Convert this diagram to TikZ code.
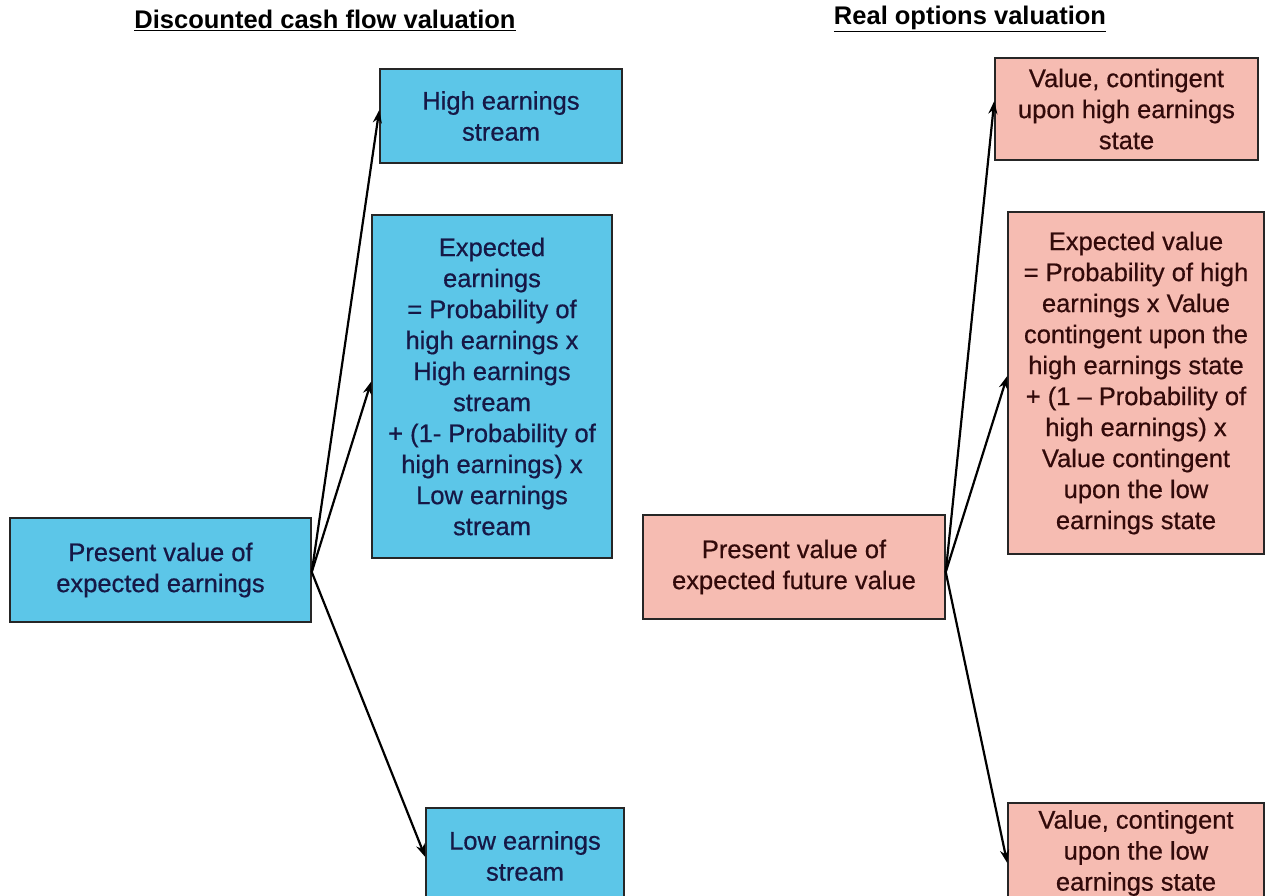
\documentclass[tikz,border=0pt]{standalone}
\usepackage{fontspec}
\setmainfont{Liberation Sans}
\newfontfamily\boxfont[FakeBold=0.6,Ligatures=TeX]{Liberation Sans}
\usetikzlibrary{arrows.meta}
\definecolor{bluefill}{RGB}{92,198,232}
\definecolor{pinkfill}{RGB}{246,188,178}
\definecolor{bluetext}{RGB}{22,24,70}
\definecolor{pinktext}{RGB}{50,10,10}
\begin{document}
\begin{tikzpicture}[x=1pt,y=-1pt,
  box/.style={draw=black!85, line width=1.5pt, inner sep=0pt, align=center,
    font=\boxfont\fontsize{25.5}{31}\selectfont},
  bluebox/.style={box, fill=bluefill, text=bluetext},
  pinkbox/.style={box, fill=pinkfill, text=pinktext},
  title/.style={font=\fontsize{25.5}{28}\selectfont\bfseries, text=black},
  conn/.style={draw=black, line width=2.2pt, -{Stealth[length=13pt,width=9pt]}}
]
\useasboundingbox (0,0) rectangle (1266,896);
\begin{scope}
\clip (0,0) rectangle (1266,896);
\node[title] (t1) at (325,20) {\underline{Discounted cash flow valuation}};
\node[title] (t2) at (970,19) {\underline{Real options valuation}};

\node[bluebox, minimum width=242pt, minimum height=94pt] (A) at (501,116) {High earnings\\stream};
\node[bluebox, minimum width=240pt, minimum height=343pt] (B) at (492,386.5) {Expected\\earnings\\= Probability of\\high earnings x\\High earnings\\stream\\+ (1- Probability of\\high earnings) x\\Low earnings\\stream};
\node[bluebox, minimum width=301pt, minimum height=104pt] (C) at (160.5,570) {Present value of\\expected earnings};
\node[bluebox, minimum width=198pt, minimum height=96pt] (D) at (525,856) {Low earnings\\stream};

\node[pinkbox, minimum width=263pt, minimum height=102pt] (E) at (1126.5,109) {Value, contingent\\upon high earnings\\state};
\node[pinkbox, minimum width=256pt, minimum height=342pt] (F) at (1136,383) {Expected value\\= Probability of high\\earnings x Value\\contingent upon the\\high earnings state\\+ (1 – Probability of\\high earnings) x\\Value contingent\\upon the low\\earnings state};
\node[pinkbox, minimum width=302pt, minimum height=104pt] (G) at (794,567) {Present value of\\expected future value};
\node[pinkbox, minimum width=256pt, minimum height=100pt] (H) at (1136,853) {Value, contingent\\upon the low\\earnings state};

\coordinate (cs) at ([yshift=-2pt]C.east);
\coordinate (gs) at ([yshift=-5pt]G.east);
\draw[conn] (cs) -- ([yshift=6pt]A.west);
\draw[conn] (cs) -- ([yshift=5pt]B.west);
\draw[conn] (cs) -- ([yshift=-1pt]D.west);
\draw[conn] (gs) -- ([yshift=8pt]E.west);
\draw[conn] (gs) -- ([yshift=7pt]F.west);
\draw[conn] (gs) -- ([yshift=-10pt]H.west);
\end{scope}
\end{tikzpicture}
\end{document}
